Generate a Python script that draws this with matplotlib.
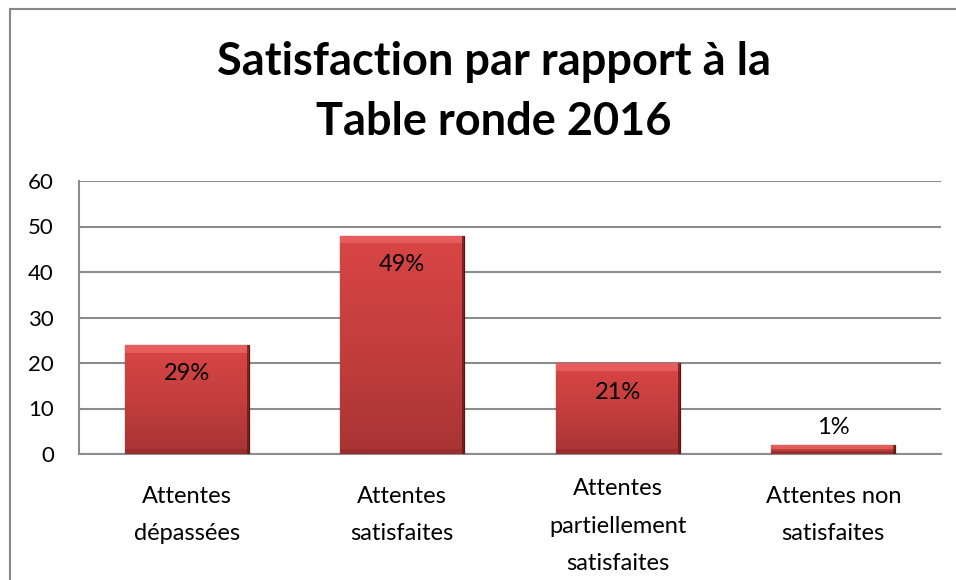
import numpy as np
import matplotlib.pyplot as plt
from matplotlib.patches import Rectangle
from matplotlib.colors import LinearSegmentedColormap

plt.rcParams['font.family'] = ['Lato', 'DejaVu Sans']

categories = ["Attentes\ndépassées", "Attentes\nsatisfaites",
              "Attentes\npartiellement\nsatisfaites", "Attentes non\nsatisfaites"]
values = [24, 48, 20, 2]
labels = ["29%", "49%", "21%", "1%"]
yticks = [0, 10, 20, 30, 40, 50, 60]

fig = plt.figure(figsize=(9.56, 5.8), dpi=100)
ax = fig.add_axes([79/956, 126/580, 862/956, 273/580])

x = np.arange(len(values))
bars = ax.bar(x, values, width=0.575, color="#c73c3c", edgecolor="#5a1414",
              linewidth=0.9, zorder=3)

# vertical red gradient + bevel strips on each bar
grad = LinearSegmentedColormap.from_list("redgrad", ["#a83434", "#c43e3e", "#da4545"])
g = np.linspace(0, 1, 256).reshape(-1, 1)
for b in bars:
    x0, w, h = b.get_x(), b.get_width(), b.get_height()
    im = ax.imshow(g, cmap=grad, aspect="auto", origin="lower",
                   extent=(x0, x0 + w, 0, h), zorder=3.5)
    im.set_clip_path(b)
    top = min(h * 0.4, 1.7)
    bot = min(h * 0.3, 1.2)
    ax.add_patch(Rectangle((x0, h - top), w, top, color="#ee6868", alpha=0.7,
                           lw=0, zorder=3.6))
    ax.add_patch(Rectangle((x0, 0), w, bot, color="#8e2828", alpha=0.5,
                           lw=0, zorder=3.6))
    ax.add_patch(Rectangle((x0 + w * 0.985, 0), w * 0.015, h, color="#5a1414",
                           alpha=0.7, lw=0, zorder=3.7))

for xi, v, lab in zip(x, values, labels):
    if v > 5:
        ax.text(xi, v - 6.4, lab, ha="center", va="center", fontsize=17, zorder=5)
    else:
        ax.text(xi, v + 3.9, lab, ha="center", va="center", fontsize=17, zorder=5)

ax.set_ylim(0, 60)
ax.set_xlim(-0.5, len(values) - 0.5)
ax.set_yticks(yticks)
ax.yaxis.grid(True, color="#8c8c8c", linewidth=1.5, zorder=0)
ax.set_axisbelow(True)
for s in ["top", "right"]:
    ax.spines[s].set_visible(False)
for s in ["left", "bottom"]:
    ax.spines[s].set_color("#8c8c8c")
    ax.spines[s].set_linewidth(1.5)
ax.set_xticks(x)
ax.set_xticklabels([])
ax.tick_params(axis="x", length=0)
ax.tick_params(axis="y", length=0, pad=18, labelsize=16)

# category labels: two-line centred lower, three-line a bit lower still
for xi, cat in zip(x, categories):
    n = cat.count("\n") + 1
    ax.text(xi, -0.224 - 0.04 * (n - 2), cat, transform=ax.get_xaxis_transform(),
            ha="center", va="center", fontsize=17, linespacing=1.95)

fig.text(494/956, 1 - 62/580, "Satisfaction par rapport à la", ha="center",
         va="center", fontsize=32.5, fontweight="bold")
fig.text(494/956, 1 - 122/580, "Table ronde 2016", ha="center",
         va="center", fontsize=32.5, fontweight="bold")

fig.add_artist(Rectangle((10/956, -0.05), 1.0, 1.05 - 9/580, transform=fig.transFigure,
                         fill=False, edgecolor="#878787", linewidth=1.5))

fig.savefig("out.png", dpi=100)
